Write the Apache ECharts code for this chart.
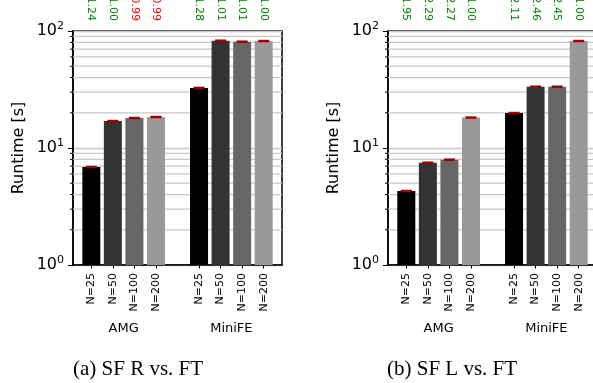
<!DOCTYPE html>
<html>
<head>
<meta charset="utf-8">
<script src="https://cdn.jsdelivr.net/npm/echarts@6/dist/echarts.min.js"></script>
<style>
  html, body { margin: 0; padding: 0; background: #fff; }
  #chart { width: 593px; height: 383px; }
</style>
</head>
<body>
<div id="chart"></div>
<script>
const tickLabels = ['N=25', 'N=50', 'N=100', 'N=200', 'N=25', 'N=50', 'N=100', 'N=200']
const positions = [0, 1, 2, 3, 5, 6, 7, 8]
const groups = ['AMG', 'MiniFE']
const groupPositions = [1.5, 6.5]
const runtimeR = [6.88, 17.0, 18.05, 18.4, 32.6, 82.6, 81.0, 82.1]
const runtimeL = [4.29, 7.49, 7.94, 18.2, 19.9, 33.4, 33.4, 82.1]
const ratioR = ['1.24', '1.00', '0.99', '0.99', '1.28', '1.01', '1.01', '1.00']
const ratioL = ['1.95', '2.29', '2.27', '1.00', '2.11', '2.46', '2.45', '1.00']
const minorTicks = [2, 3, 4, 5, 6, 7, 8, 9, 20, 30, 40, 50, 60, 70, 80, 90]
const barColors = ['#000000', '#333333', '#666666', '#999999']
const captions = ['(a) SF R vs. FT', '(b) SF L vs. FT']

const font = 'DejaVu Sans'
const gridLefts = [73, 388]

function buildPanel(i, values, ratios) {
  const xAxes = [
    {
      gridIndex: i,
      type: 'value',
      min: -0.85,
      max: 8.85,
      axisLine: { show: true, onZero: false, lineStyle: { color: '#000', width: 1.5 } },
      axisTick: { show: true, customValues: positions, length: 3.5, lineStyle: { color: '#000', width: 1 } },
      axisLabel: {
        show: true,
        customValues: positions,
        rotate: 90,
        margin: 8,
        fontFamily: font,
        fontSize: 11,
        color: '#000',
        formatter: v => tickLabels[positions.indexOf(v)]
      },
      splitLine: { show: false }
    },
    {
      gridIndex: i,
      type: 'value',
      position: 'bottom',
      min: -0.85,
      max: 8.85,
      axisLine: { show: false, onZero: false },
      axisTick: { show: false },
      axisLabel: {
        customValues: groupPositions,
        margin: 57,
        fontFamily: font,
        fontSize: 13,
        color: '#000',
        formatter: v => groups[groupPositions.indexOf(v)]
      },
      splitLine: { show: false }
    },
    {
      gridIndex: i,
      type: 'value',
      position: 'top',
      min: -0.85,
      max: 8.85,
      axisLine: { show: false, onZero: false },
      axisTick: { show: false },
      axisLabel: {
        customValues: positions,
        rotate: 90,
        margin: 10,
        fontFamily: font,
        fontSize: 11,
        formatter: v => {
          const r = ratios[positions.indexOf(v)]
          return (parseFloat(r) < 1 ? '{r|' : '{g|') + r + '}'
        },
        rich: {
          g: { color: '#008000', fontFamily: font, fontSize: 11 },
          r: { color: '#ff0000', fontFamily: font, fontSize: 11 }
        }
      },
      splitLine: { show: false }
    }
  ]
  const yAxis = {
    gridIndex: i,
    type: 'log',
    logBase: 10,
    min: 1,
    max: 100,
    name: 'Runtime [s]',
    nameLocation: 'middle',
    nameRotate: 90,
    nameGap: 46,
    nameTextStyle: { fontFamily: font, fontSize: 16, color: '#000' },
    axisLine: { show: true, onZero: false, lineStyle: { color: '#000', width: 1.5 } },
    axisTick: { show: true, length: 5, lineStyle: { color: '#000', width: 1 } },
    axisLabel: {
      margin: 9,
      fontFamily: font,
      fontSize: 16,
      color: '#000',
      formatter: v => '10{sup|' + Math.round(Math.log10(v)) + '}',
      rich: {
        sup: { fontFamily: font, fontSize: 11, color: '#000', padding: [0, 0, 9, 0] }
      }
    },
    splitLine: { show: true, lineStyle: { color: '#c8c8c8', width: 1.3 } }
  }
  const series = [
    {
      type: 'custom',
      xAxisIndex: i * 3,
      yAxisIndex: i,
      z: 1,
      silent: true,
      clip: false,
      data: minorTicks.map(v => [0, v]),
      renderItem: (params, api) => {
        const y = api.coord([0, api.value(1)])[1]
        const cs = params.coordSys
        return {
          type: 'group',
          children: [
            { type: 'line', shape: { x1: cs.x, y1: y, x2: cs.x + cs.width, y2: y }, style: { stroke: '#c8c8c8', lineWidth: 1.3 } },
            { type: 'line', shape: { x1: cs.x - 3, y1: y, x2: cs.x, y2: y }, style: { stroke: '#000', lineWidth: 1 } }
          ]
        }
      }
    },
    {
      type: 'bar',
      xAxisIndex: i * 3,
      yAxisIndex: i,
      z: 2,
      barWidth: 18,
      silent: true,
      data: values.map((v, k) => ({ value: [positions[k], v], itemStyle: { color: barColors[k % 4] } }))
    },
    {
      type: 'scatter',
      xAxisIndex: i * 3,
      yAxisIndex: i,
      z: 3,
      silent: true,
      symbol: 'rect',
      symbolSize: [11, 2.5],
      itemStyle: { color: '#a00000', opacity: 1 },
      data: values.map((v, k) => [positions[k], v])
    }
  ]
  return { xAxes, yAxis, series }
}

const panels = [buildPanel(0, runtimeR, ratioR), buildPanel(1, runtimeL, ratioL)]

const chart = echarts.init(document.getElementById('chart'), null, { renderer: 'canvas' })
chart.setOption({
  animation: false,
  backgroundColor: '#fff',
  grid: gridLefts.map(l => ({
    left: l, top: 31, width: 209, height: 234,
    containLabel: false, outerBoundsMode: 'none',
    show: true, borderColor: '#000', borderWidth: 1.5, backgroundColor: 'transparent'
  })),
  xAxis: panels[0].xAxes.concat(panels[1].xAxes),
  yAxis: [panels[0].yAxis, panels[1].yAxis],
  series: panels[0].series.concat(panels[1].series),
  graphic: captions.map((c, k) => ({
    type: 'text',
    left: [73, 387][k],
    top: 359,
    style: { text: c, fontFamily: 'Liberation Serif', fontSize: 21, fill: '#000' }
  }))
})
</script>
</body>
</html>
